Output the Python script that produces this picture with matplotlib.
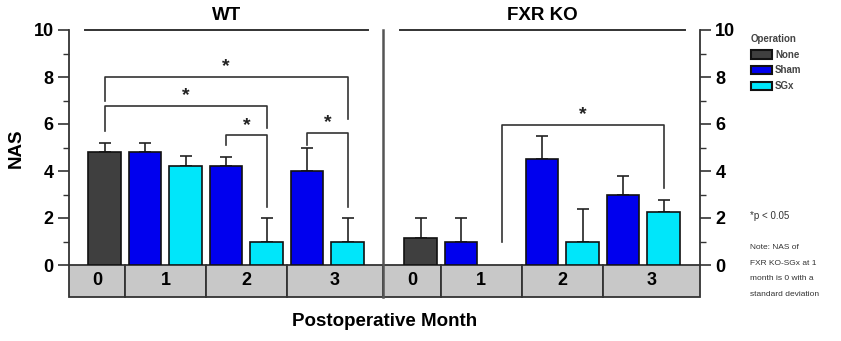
import matplotlib.pyplot as plt
from matplotlib.patches import Rectangle
import numpy as np

plt.rcParams['font.family'] = ['Liberation Sans', 'DejaVu Sans']
plt.rcParams['font.weight'] = 'bold'

groups = ['WT', 'FXR KO']
months = ['0', '1', '2', '3']
operations = ['None', 'Sham', 'SGx']
op_colors = {'None': '#3f3f3f', 'Sham': '#0000ee', 'SGx': '#00e6fa'}

# one bar per (month, operation) slot, same order in both genotypes
bar_ops = ['None', 'Sham', 'SGx', 'Sham', 'SGx', 'Sham', 'SGx']
wt_mean = [4.8, 4.8, 4.2, 4.2, 1.0, 4.0, 1.0]
wt_sd = [0.4, 0.4, 0.45, 0.4, 1.0, 1.0, 1.0]
ko_mean = [1.15, 1.0, 0.0, 4.5, 1.0, 3.0, 2.25]
ko_sd = [0.85, 1.0, 0.0, 1.0, 1.4, 0.8, 0.5]

wt_x = np.arange(7)
ko_x = 7.8 + np.arange(7)
split_x = 6.88
xmin, xmax = -0.88, 14.7
strip = 1.36  # height of the month strip below zero, in data units
line_col = '#333333'

fig = plt.figure(figsize=(8.41, 3.41), dpi=100)
ax = fig.add_axes([69 / 841, 1 - 265 / 341, 631 / 841, 235 / 341])
ax.set_xlim(xmin, xmax)
ax.set_ylim(0, 10)


def draw_bars(xs, means, sds):
    for x, m, s, op in zip(xs, means, sds, bar_ops):
        if m <= 0:
            continue
        ax.errorbar(x, m, yerr=[[0], [s]], fmt='none', ecolor='#222222',
                    elinewidth=1.2, capsize=4, capthick=1.2, zorder=2)
        ax.bar(x, m, width=0.8, color=op_colors[op], edgecolor='#111111',
               linewidth=1.2, zorder=3)


draw_bars(wt_x, wt_mean, wt_sd)
draw_bars(ko_x, ko_mean, ko_sd)


def bracket(x1, x2, h, b1, b2, star_y):
    ax.plot([x1, x1, x2, x2], [b1, h, h, b2], color=line_col, lw=1.2,
            clip_on=False, zorder=4)
    ax.text((x1 + x2) / 2, star_y, '*', ha='center', va='center',
            fontsize=14, color='#222222')


# WT comparisons
bracket(wt_x[0], wt_x[6], 8.0, 7.0, 6.2, 8.45)
bracket(wt_x[0], wt_x[4], 6.75, 5.7, 5.83, 7.2)
bracket(wt_x[3], wt_x[4], 5.53, 5.1, 2.47, 5.95)
bracket(wt_x[5], wt_x[6], 5.63, 5.1, 2.47, 6.05)
# FXR KO comparison
bracket(ko_x[2], ko_x[6], 5.96, 1.0, 3.27, 6.4)

# genotype headers
for x0, x1, name in [(-0.48, 6.5, groups[0]), (7.3, 14.33, groups[1])]:
    ax.plot([x0, x1], [10, 10], color=line_col, lw=1.4, clip_on=False)
    ax.text((x0 + x1) / 2, 10.62, name, ha='center', va='center',
            fontsize=13.5)
ax.plot([split_x, split_x], [-strip, 10], color='#555555', lw=1.8,
        clip_on=False, zorder=5)

# month strip under the bars
wt_edges = [xmin, 0.5, 2.5, 4.5, split_x]
ko_edges = [split_x, 8.3, 10.3, 12.3, xmax]
for edges in (wt_edges, ko_edges):
    for i, m in enumerate(months):
        a, b = edges[i], edges[i + 1]
        ax.add_patch(Rectangle((a, -strip), b - a, strip, facecolor='#c8c8c8',
                               edgecolor=line_col, lw=1.3, clip_on=False,
                               zorder=1))
        ax.text((a + b) / 2, -strip / 2, m, ha='center', va='center',
                fontsize=13)

# axes styling
for side in ['top', 'bottom']:
    ax.spines[side].set_visible(False)
for side in ['left', 'right']:
    ax.spines[side].set_bounds(0, 10)
    ax.spines[side].set_linewidth(1.3)
    ax.spines[side].set_color(line_col)
ax.set_xticks([])
ax.set_yticks(range(0, 11, 2))
ax.set_yticks(range(1, 10, 2), minor=True)
ax.tick_params(axis='y', which='major', direction='out', length=8, width=1.2,
               left=True, right=True, labelleft=True, labelright=True,
               labelsize=13, pad=3, color=line_col)
ax.tick_params(axis='y', which='minor', direction='out', length=4, width=1.0,
               left=True, right=True, color=line_col)

fig.text(16 / 841, 1 - 148 / 341, 'NAS', rotation=90, ha='center',
         va='center', fontsize=13.5)
fig.text(385 / 841, 1 - 322 / 341, 'Postoperative Month', ha='center',
         va='center', fontsize=13.5)

handles = [Rectangle((0, 0), 1, 1, facecolor=op_colors[op], edgecolor='#111111',
                     lw=1.5) for op in operations]
leg = fig.legend(handles, operations, title='Operation', loc='upper left',
                 bbox_to_anchor=(744 / 841, 1 - 27 / 341), frameon=False,
                 fontsize=7, title_fontsize=7, handlelength=2.2,
                 handleheight=1.0, handletextpad=0.3, labelspacing=0.6,
                 borderpad=0.2, alignment='left')
for t in leg.get_texts():
    t.set_color('#444444')
leg.get_title().set_color('#444444')

fig.text(750 / 841, 1 - 216 / 341, '*p < 0.05', ha='left', va='center',
         fontsize=7, fontweight='normal', color='#333333')
fig.text(750 / 841, 1 - 244 / 341,
         'Note: NAS of\nFXR KO-SGx at 1\nmonth is 0 with a\nstandard deviation',
         ha='left', va='top', fontsize=6, fontweight='normal',
         color='#333333', linespacing=2.75)

fig.savefig('out.png', dpi=100)
